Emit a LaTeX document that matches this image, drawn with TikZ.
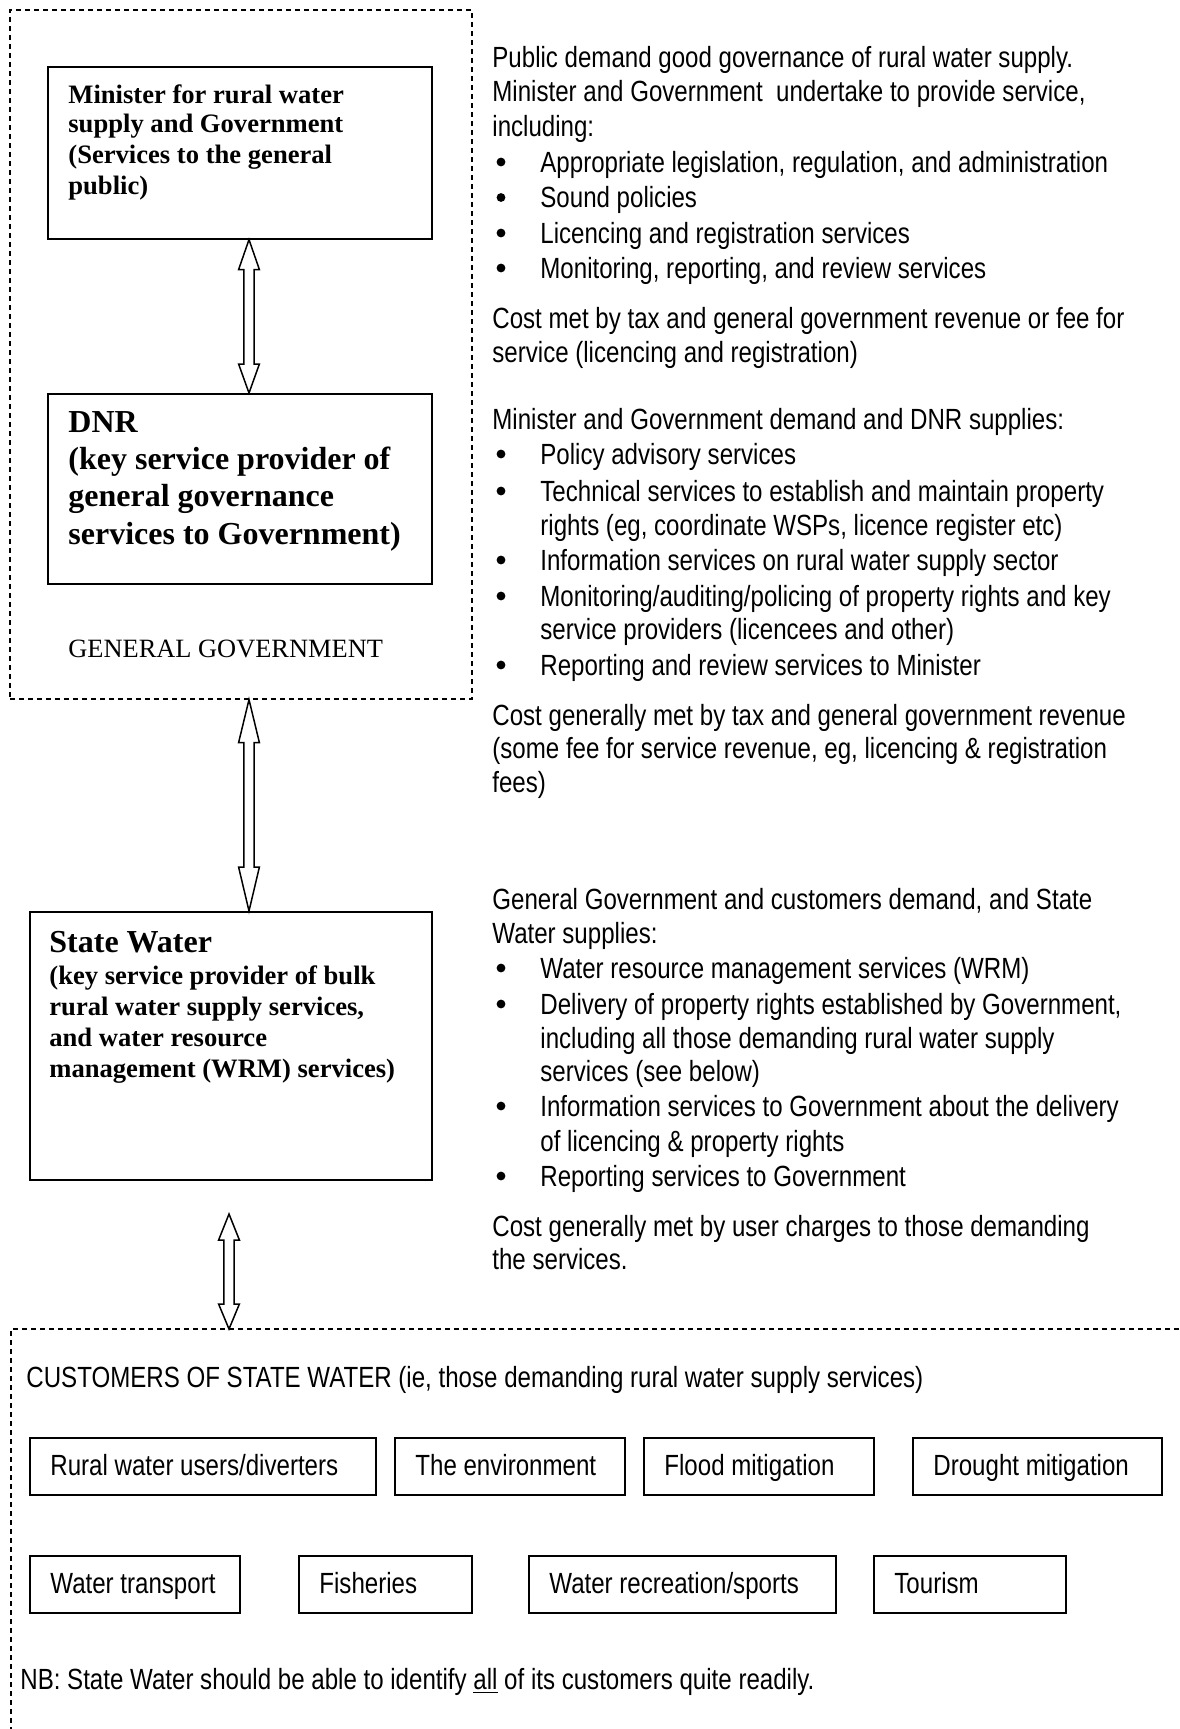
\documentclass[tikz,border=0pt]{standalone}
\usepackage{fontspec}
\setmainfont{Liberation Serif}
\newfontfamily\nar[FakeStretch=0.825]{Liberation Sans}
\usetikzlibrary{calc}
\tikzset{
  box/.style={draw, line width=0.8pt, inner sep=0pt, anchor=north west},
  dbox/.style={draw, line width=0.8pt, dash pattern=on 2.5pt off 2pt, inner sep=0pt, anchor=north west},
  dline/.style={line width=0.8pt, dash pattern=on 2.5pt off 2pt},
  rt/.style={anchor=base west, inner sep=0pt, font=\nar\fontsize{14.6}{17}\selectfont},
  bt/.style={anchor=base west, inner sep=0pt, font=\bfseries\fontsize{13.3}{15}\selectfont},
  bigt/.style={anchor=base west, inner sep=0pt, font=\bfseries\fontsize{16}{18}\selectfont},
  regt/.style={anchor=base west, inner sep=0pt, font=\fontsize{13.2}{15}\selectfont},
  bul/.style={circle, fill=black, inner sep=0pt, minimum size=4.4pt},
  arrowline/.style={draw, line width=0.75pt, fill=white, line join=miter}
}
% #1 top point, #2 bottom point, #3 top head length, #4 bottom head length
\newcommand\dbarrow[4]{%
  \draw[arrowline] let \p1=(#1), \p2=(#2) in
  (\p1) -- (\x1+5.2pt,\y1-#3) -- (\x1+2.6pt,\y1-#3) -- (\x1+2.6pt,\y2+#4)
  -- (\x1+5.2pt,\y2+#4) -- (\x1,\y2) -- (\x1-5.2pt,\y2+#4) -- (\x1-2.6pt,\y2+#4)
  -- (\x1-2.6pt,\y1-#3) -- (\x1-5.2pt,\y1-#3) -- cycle;}
\newcommand\rl[3]{\node[rt] (#1) at (492,#2+3) {#3};}
\newcommand\bl[3]{\node[bul] (#1b) at (501,#2-7) {}; \node[rt] (#1) at (540,#2+3) {#3};}
\newcommand\cl[3]{\node[rt] (#1) at (540,#2+3) {#3};}
\begin{document}
\begin{tikzpicture}[x=0.5pt, y=-0.5pt]
\useasboundingbox (0,0) rectangle (1179,1729);

% General government group
\node[dbox, minimum width=231pt, minimum height=344.5pt] (gg) at (9,9) {};
\node[box, minimum width=192pt, minimum height=86pt] (mini) at (47,66) {};
\node[bt] (m1) at (68,103) {Minister for rural water};
\node[bt] (m2) at (68,132.5) {supply and Government};
\node[bt] (m3) at (68,163) {(Services to the general};
\node[bt] (m4) at (68,194) {public)};

\node[box, minimum width=192pt, minimum height=95pt] (dnr) at (47,393) {};
\node[bigt] (d1) at (68,432) {DNR};
\node[bigt] (d2) at (68,469) {(key service provider of};
\node[bigt] (d3) at (68,506) {general governance};
\node[bigt] (d4) at (68,544) {services to Government)};

\node[regt] (ggl) at (68,657) {GENERAL GOVERNMENT};

% State Water
\node[box, minimum width=201pt, minimum height=134pt] (sw) at (29,911) {};
\node[bigt] (s1) at (49,952) {State Water};
\node[bt] (s2) at (49,984) {(key service provider of bulk};
\node[bt] (s3) at (49,1015) {rural water supply services,};
\node[bt] (s4) at (49,1046) {and water resource};
\node[bt] (s5) at (49,1077) {management (WRM) services)};

% arrows
\coordinate (ax) at (249,0);
\dbarrow{mini.south -| ax}{dnr.north -| ax}{15pt}{14.5pt}
\dbarrow{gg.south -| ax}{sw.north -| ax}{21.5pt}{22pt}
\coordinate (a3t) at (229,1214);
\coordinate (custtl) at (11,1329);
\dbarrow{a3t}{a3t |- custtl}{13pt}{12.5pt}

% Right-hand text
\rl{p1a}{64}{Public demand good governance of rural water supply.}
\rl{p1b}{98.5}{Minister and Government\ \ undertake to provide service,}
\rl{p1c}{133}{including:}
\bl{p1d}{169}{Appropriate legislation, regulation, and administration}
\bl{p1e}{204.5}{Sound policies}
\bl{p1f}{240}{Licencing and registration services}
\bl{p1g}{275}{Monitoring, reporting, and review services}
\rl{p1h}{325}{Cost met by tax and general government revenue or fee for}
\rl{p1i}{359}{service (licencing and registration)}

\rl{p2a}{426}{Minister and Government demand and DNR supplies:}
\bl{p2b}{461}{Policy advisory services}
\bl{p2c}{498}{Technical services to establish and maintain property}
\cl{p2d}{532}{rights (eg, coordinate WSPs, licence register etc)}
\bl{p2e}{567}{Information services on rural water supply sector}
\bl{p2f}{603}{Monitoring/auditing/policing of property rights and key}
\cl{p2g}{636}{service providers (licencees and other)}
\bl{p2h}{672}{Reporting and review services to Minister}
\rl{p2i}{722}{Cost generally met by tax and general government revenue}
\rl{p2j}{755}{(some fee for service revenue, eg, licencing \& registration}
\rl{p2k}{789}{fees)}

\rl{p3a}{906}{General Government and customers demand, and State}
\rl{p3b}{940}{Water supplies:}
\bl{p3c}{975}{Water resource management services (WRM)}
\bl{p3d}{1011}{Delivery of property rights established by Government,}
\cl{p3e}{1045}{including all those demanding rural water supply}
\cl{p3f}{1078}{services (see below)}
\bl{p3g}{1113}{Information services to Government about the delivery}
\cl{p3h}{1148.5}{of licencing \& property rights}
\bl{p3i}{1183}{Reporting services to Government}
\rl{p3j}{1233}{Cost generally met by user charges to those demanding}
\rl{p3k}{1266}{the services.}

% Customers group
\draw[dline] (1179,1329) -- (custtl) -- (11,1729);
\node[rt] (custl) at (26,1387) {CUSTOMERS OF STATE WATER (ie, those demanding rural water supply services)};

\node[box, minimum width=173pt, minimum height=28.5pt] (c1) at (29,1437) {};
\node[box, minimum width=115pt, minimum height=28.5pt] (c2) at (394,1437) {};
\node[box, minimum width=115pt, minimum height=28.5pt] (c3) at (643,1437) {};
\node[box, minimum width=124.5pt, minimum height=28.5pt] (c4) at (912,1437) {};
\node[box, minimum width=105pt, minimum height=28.5pt] (c5) at (29,1555) {};
\node[box, minimum width=86.5pt, minimum height=28.5pt] (c6) at (298,1555) {};
\node[box, minimum width=153.5pt, minimum height=28.5pt] (c7) at (528,1555) {};
\node[box, minimum width=96pt, minimum height=28.5pt] (c8) at (873,1555) {};
\node[rt] (c1t) at (50,1475) {Rural water users/diverters};
\node[rt] (c2t) at (415,1475) {The environment};
\node[rt] (c3t) at (664,1475) {Flood mitigation};
\node[rt] (c4t) at (933,1475) {Drought mitigation};
\node[rt] (c5t) at (50,1593) {Water transport};
\node[rt] (c6t) at (319,1593) {Fisheries};
\node[rt] (c7t) at (549,1593) {Water recreation/sports};
\node[rt] (c8t) at (894,1593) {Tourism};

\node[rt] (nb) at (20,1689) {NB: State Water should be able to identify \underline{all} of its customers quite readily.};
\end{tikzpicture}
\end{document}
